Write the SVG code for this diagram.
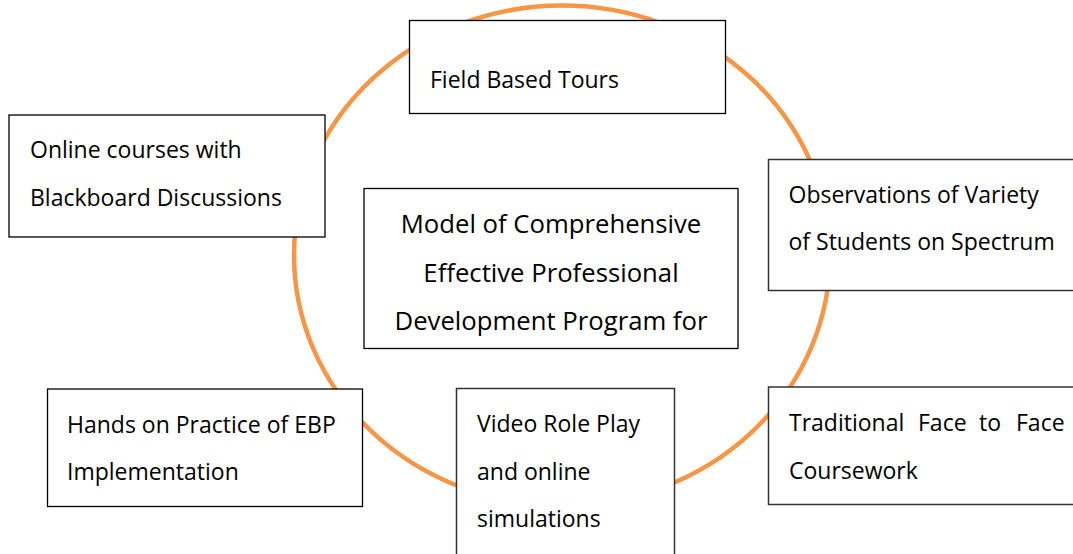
<svg xmlns="http://www.w3.org/2000/svg" width="1073" height="554" viewBox="0 0 1073 554">
  <style>
    .box { fill: #ffffff; stroke: #000000; stroke-width: 1.3; }
    .box2 { fill: #ffffff; stroke: #333333; stroke-width: 1.5; }
    .lbl { font-family: "Open Sans", "Liberation Sans", sans-serif; font-size: 23px; fill: #000000; }
    .title { font-family: "Open Sans", "Liberation Sans", sans-serif; font-size: 25.7px; fill: #000000; text-anchor: middle; }
    .ring { fill: none; stroke: #F79646; stroke-width: 4.5; }
  </style>
  <rect width="1073" height="554" fill="#ffffff"/>
  <g id="connectors">
    <ellipse class="ring" cx="562" cy="255.5" rx="268" ry="250"/>
  </g>
  <g id="node-field">
    <rect class="box" x="409.5" y="20.5" width="316" height="93"/>
    <text class="lbl" x="430" y="88">Field Based Tours</text>
  </g>
  <g id="node-online">
    <rect class="box" x="9" y="115" width="316" height="122"/>
    <text class="lbl" x="30" y="158">Online courses with</text>
    <text class="lbl" x="30" y="206">Blackboard Discussions</text>
  </g>
  <g id="node-observations">
    <rect class="box2" x="768.5" y="159.5" width="320" height="131"/>
    <text class="lbl" x="788.5" y="203">Observations of Variety</text>
    <text class="lbl" x="788.5" y="250">of Students on Spectrum</text>
  </g>
  <g id="node-center">
    <rect class="box" x="364" y="188.5" width="374" height="160"/>
    <text class="title" x="551" y="233">Model of Comprehensive</text>
    <text class="title" x="551" y="281.5">Effective Professional</text>
    <text class="title" x="551" y="330">Development Program for</text>
  </g>
  <g id="node-hands">
    <rect class="box" x="47.5" y="389" width="315" height="117.5"/>
    <text class="lbl" x="67" y="433">Hands on Practice of EBP</text>
    <text class="lbl" x="67" y="480">Implementation</text>
  </g>
  <g id="node-video">
    <rect class="box2" x="456.5" y="388.5" width="218" height="175"/>
    <text class="lbl" x="477" y="432">Video Role Play</text>
    <text class="lbl" x="477" y="479.5">and online</text>
    <text class="lbl" x="477" y="527">simulations</text>
  </g>
  <g id="node-traditional">
    <rect class="box2" x="768.5" y="387" width="320" height="117.5"/>
    <text class="lbl" y="431"><tspan x="789">Traditional</tspan> <tspan x="918">Face</tspan> <tspan x="979">to</tspan> <tspan x="1016">Face</tspan></text>
    <text class="lbl" x="789" y="478.5">Coursework</text>
  </g>
</svg>
